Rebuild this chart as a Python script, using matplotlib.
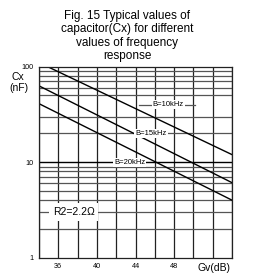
import matplotlib
matplotlib.use('Agg')
import matplotlib.pyplot as plt
import numpy as np

plt.rcParams['font.family'] = ['Liberation Sans', 'DejaVu Sans']

# (Gv dB, Cx nF) end points of each curve
gv_10k = [34.9, 54]
cx_10k = [100, 12]
gv_15k = [34, 54]
cx_15k = [63, 6.1]
gv_20k = [34, 54]
cx_20k = [41, 4.0]

xticks = [36, 40, 44, 48]
yticks = [1, 10, 100]
ytick_labels = ['1', '10', '100']
xgrid = np.arange(34, 55, 2)
ygrid_minor = [m * d for d in (1, 10) for m in range(2, 10)]

fig = plt.figure(figsize=(2.55, 2.77), dpi=100)
ax = fig.add_axes([0.153, 0.0697, 0.757, 0.6895])
ax.set_yscale('log')
ax.set_xlim(34, 54)
ax.set_ylim(1, 100)

for x in xgrid:
	ax.axvline(x, color='#222222', lw=0.9, zorder=1)
for y in ygrid_minor:
	if y == 40:
		continue
	ax.axhline(y, color='#555555', lw=0.9, zorder=1)
ax.axhline(10, color='black', lw=1.0, zorder=1)
# short piece of the 40 line, only round the B=10kHz label
ax.plot([44.4, 50.2], [40, 40], color='#555555', lw=0.9, zorder=1)

for gv, cx in ((gv_10k, cx_10k), (gv_15k, cx_15k), (gv_20k, cx_20k)):
	ax.plot(gv, cx, color='black', lw=1.0, zorder=2)

box = dict(boxstyle='square,pad=0.15', fc='white', ec='none')
ax.text(47.4, 40, 'B=10kHz', fontsize=5.5, ha='center', va='center', bbox=box, zorder=3)
ax.text(45.6, 20, 'B=15kHz', fontsize=5.5, ha='center', va='center', bbox=box, zorder=3)
ax.text(43.4, 10, 'B=20kHz', fontsize=5.5, ha='center', va='center', bbox=box, zorder=3)
ax.text(37.6, 3, 'R2=2.2Ω', fontsize=7.5, ha='center', va='center',
	bbox=dict(boxstyle='square,pad=0.35', fc='white', ec='none'), zorder=3)

ax.set_xticks(xticks)
ax.set_xticklabels([str(t) for t in xticks], fontsize=5.2)
ax.set_yticks(yticks)
ax.set_yticklabels(ytick_labels, fontsize=5.2)
ax.yaxis.set_minor_locator(matplotlib.ticker.NullLocator())
ax.tick_params(length=0, pad=4)
for s in ax.spines.values():
	s.set_color('#222222')
	s.set_linewidth(0.9)

fig.text(18/255, 1-77/277, 'Cx', fontsize=7.5, ha='center', va='center')
fig.text(19/255, 1-88/277, '(nF)', fontsize=7.5, ha='center', va='center')
fig.text(214/255, 1-268/277, 'Gv(dB)', fontsize=7.5, ha='center', va='center')

fig.text(127/255, 1-36/277, 'Fig. 15 Typical values of\ncapacitor(Cx) for different\nvalues of frequency\nresponse',
	fontsize=8.5, ha='center', va='center', linespacing=1.15)

fig.savefig('out.png', dpi=100)
